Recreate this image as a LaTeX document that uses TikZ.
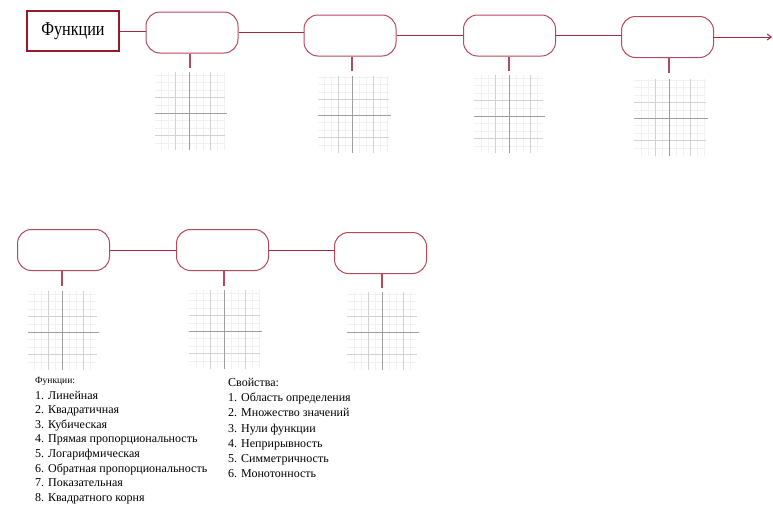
\documentclass[tikz,border=0pt]{standalone}
\usepackage{fontspec}
\setmainfont{Liberation Serif}
\usetikzlibrary{arrows.meta}
\definecolor{maroon}{HTML}{8E1B2E}
\definecolor{boxred}{HTML}{B54A5C}
\definecolor{linered}{HTML}{A3283D}
\tikzset{
  titlebox/.style={draw=maroon, line width=2.6pt, minimum width=92pt, minimum height=40pt, inner sep=0pt, font=\fontsize{17}{20}\selectfont},
  roundbox/.style={draw=boxred, line width=1pt, rounded corners=14pt, minimum width=92pt, minimum height=41pt, inner sep=0pt},
  conn/.style={draw=linered, line width=1pt},
  stub/.style={draw=boxred, line width=1.2pt},
  listtext/.style={anchor=north west, align=left, inner sep=0pt},
}
\newcommand\minigrid[6]{%
  % left top right bottom axisx axisy
  \foreach \k in {-5,...,5} {
    \pgfmathsetmacro\xx{#5+7*\k}
    \ifdim \xx pt>#1pt \ifdim \xx pt<#3pt
      \draw[gray!11, line width=0.7pt] (\xx,#2) -- (\xx,#4);
    \fi\fi
  }
  \foreach \k in {-6,...,6} {
    \pgfmathsetmacro\yy{#6+7.6*\k}
    \ifdim \yy pt>#2pt \ifdim \yy pt<#4pt
      \draw[gray!11, line width=0.7pt] (#1,\yy) -- (#3,\yy);
    \fi\fi
  }
  \draw[gray!35, line width=0.7pt] (#5-14,#2) -- (#5-14,#4);
  \draw[gray!35, line width=0.7pt] (#5+21,#2) -- (#5+21,#4);
  \draw[gray!35, line width=0.7pt] (#1,#6-15.2) -- (#3,#6-15.2);
  \draw[gray!35, line width=0.7pt] (#1,#6+22.8) -- (#3,#6+22.8);
  \draw[gray!75, line width=0.8pt] (#5,#2) -- (#5,#4);
  \draw[gray!75, line width=0.8pt] (#1,#6) -- (#3+2,#6);
}
\begin{document}
\begin{tikzpicture}[x=1pt, y=-1pt]
\useasboundingbox[fill=white] (0,0) rectangle (773,504);

% grids
\minigrid{155}{72}{225}{150}{189}{113}
\minigrid{318}{76}{389}{153}{352}{115}
\minigrid{474}{75}{543}{153}{509}{116}
\minigrid{634}{79}{706}{156}{669}{118}
\minigrid{28}{291}{97}{370}{62}{332}
\minigrid{189}{290}{260}{369}{224}{331}
\minigrid{347}{292}{417}{370}{382}{332}

% nodes
\node[titlebox] (title) at (73,31) {\scalebox{0.95}[1.15]{Функции}};
\node[roundbox] (b1) at (192,32.5) {};
\node[roundbox] (b2) at (350,35.5) {};
\node[roundbox] (b3) at (509.5,35.5) {};
\node[roundbox] (b4) at (667.5,37) {};
\node[roundbox] (b5) at (63.5,250) {};
\node[roundbox] (b6) at (222.5,250) {};
\node[roundbox] (b7) at (380.5,253) {};

\coordinate (arrowend) at (772,37);
\coordinate (s1) at (190,68);
\coordinate (s2) at (352,71);
\coordinate (s3) at (509,71);
\coordinate (s4) at (669,73);
\coordinate (s5) at (62,286);
\coordinate (s6) at (224,286);
\coordinate (s7) at (382,288);

% connectors
\draw[conn] (title.east) -- (title.east -| b1.west);
\draw[conn] (b1.east) -- (b1.east -| b2.west);
\draw[conn] (b2.east) -- (b2.east -| b3.west);
\draw[conn] (b3.east) -- (b3.east -| b4.west);
\draw[conn, -{Straight Barb[length=4pt, width=6pt]}] (b4.east) -- (arrowend);
\draw[conn] (b5.east) -- (b5.east -| b6.west);
\draw[conn] (b6.east) -- (b6.east -| b7.west);

\draw[stub] (s1 |- b1.south) -- (s1);
\draw[stub] (s2 |- b2.south) -- (s2);
\draw[stub] (s3 |- b3.south) -- (s3);
\draw[stub] (s4 |- b4.south) -- (s4);
\draw[stub] (s5 |- b5.south) -- (s5);
\draw[stub] (s6 |- b6.south) -- (s6);
\draw[stub] (s7 |- b7.south) -- (s7);

% lists
\node[listtext, font=\fontsize{12}{14.6}\selectfont] (funcs) at (35,377) {%
{\fontsize{9.5}{10}\selectfont Функции:}\\[1pt]
1. Линейная\\
2. Квадратичная\\
3. Кубическая\\
4. Прямая пропорциональность\\
5. Логарифмическая\\
6. Обратная пропорциональность\\
7. Показательная\\
8. Квадратного корня};
\node[listtext, font=\fontsize{12}{15.2}\selectfont] (props) at (228,378) {%
Свойства:\\
1. Область определения\\
2. Множество значений\\
3. Нули функции\\
4. Неприрывность\\
5. Симметричность\\
6. Монотонность};
\end{tikzpicture}
\end{document}
